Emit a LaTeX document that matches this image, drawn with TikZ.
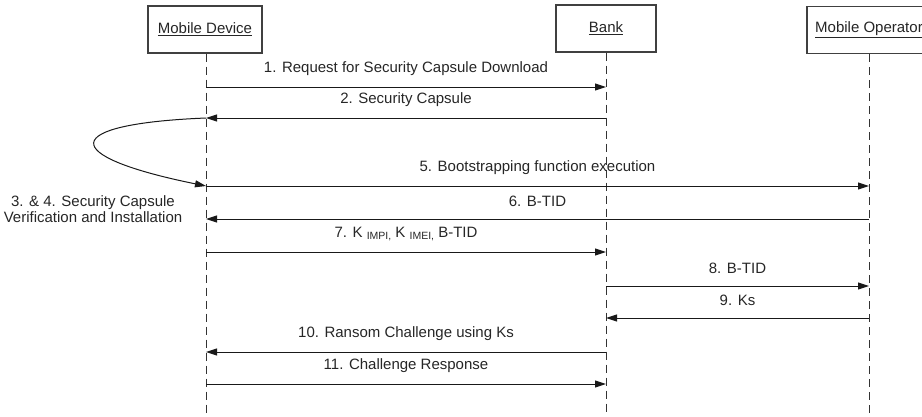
\documentclass[tikz,border=0pt]{standalone}
\usepackage{fontspec}
\setmainfont{Liberation Sans}
\usetikzlibrary{arrows.meta}
\newcommand{\subtxt}[1]{\raisebox{-0.35ex}{\fontsize{10.5}{12}\selectfont #1}}
\begin{document}
\begin{tikzpicture}[x=1pt,y=-1pt,
  every node/.style={font=\fontsize{15}{15.3}\selectfont, text=black!85},
  actor/.style={draw=black!75, line width=1.1pt, fill=white, minimum height=47pt, inner sep=0pt},
  life/.style={draw=black!80, line width=1pt, dash pattern=on 8pt off 5pt},
  msg/.style={draw=black!90, line width=1pt, -{Triangle[length=11pt,width=7pt]}},
  lbl/.style={midway, yshift=18pt}]
\useasboundingbox (0,0) rectangle (922,416);

% actors
\node[actor, minimum width=114pt] (md) at (205,29.5) {\underline{Mobile Device}};
\node[actor, minimum width=100pt] (bk) at (606,28.5) {\underline{Bank}};
\node[actor, minimum width=124pt] (mo) at (869,30) {\underline{Mobile Operator}};

% lifeline ends
\coordinate (mdend) at (206,416);
\coordinate (bkend) at (606,416);
\coordinate (moend) at (869,416);
\draw[life] (md.south -| mdend) -- (mdend);
\draw[life] (bk.south -| bkend) -- (bkend);
\draw[life] (mo.south -| moend) -- (moend);

% message anchor points
\foreach \y/\n in {87/1,118/2,186/5,219/6,252/7,286/8,318/9,352/10,384/11} {
  \coordinate (md\n) at (206,\y);
  \coordinate (bk\n) at (606,\y);
  \coordinate (mo\n) at (869,\y);
}

\draw[msg] (md1) -- node[lbl]{1. Request for Security Capsule Download} (bk1);
\draw[msg] (bk2) -- node[lbl]{2. Security Capsule} (md2);
\draw[msg] (md2) .. controls (58,124) and (58,156) .. (md5);
\node[align=center] (selflbl) at (93,209) {3. \& 4. Security Capsule\\Verification and Installation};
\draw[msg] (md5) -- node[lbl]{5. Bootstrapping function execution} (mo5);
\draw[msg] (mo6) -- node[lbl]{6. B-TID} (md6);
\draw[msg] (md7) -- node[lbl]{7. K \subtxt{IMPI,} K \subtxt{IMEI,} B-TID} (bk7);
\draw[msg] (bk8) -- node[lbl]{8. B-TID} (mo8);
\draw[msg] (mo9) -- node[lbl]{9. Ks} (bk9);
\draw[msg] (bk10) -- node[lbl]{10. Ransom Challenge using Ks} (md10);
\draw[msg] (md11) -- node[lbl]{11. Challenge Response} (bk11);
\end{tikzpicture}
\end{document}
